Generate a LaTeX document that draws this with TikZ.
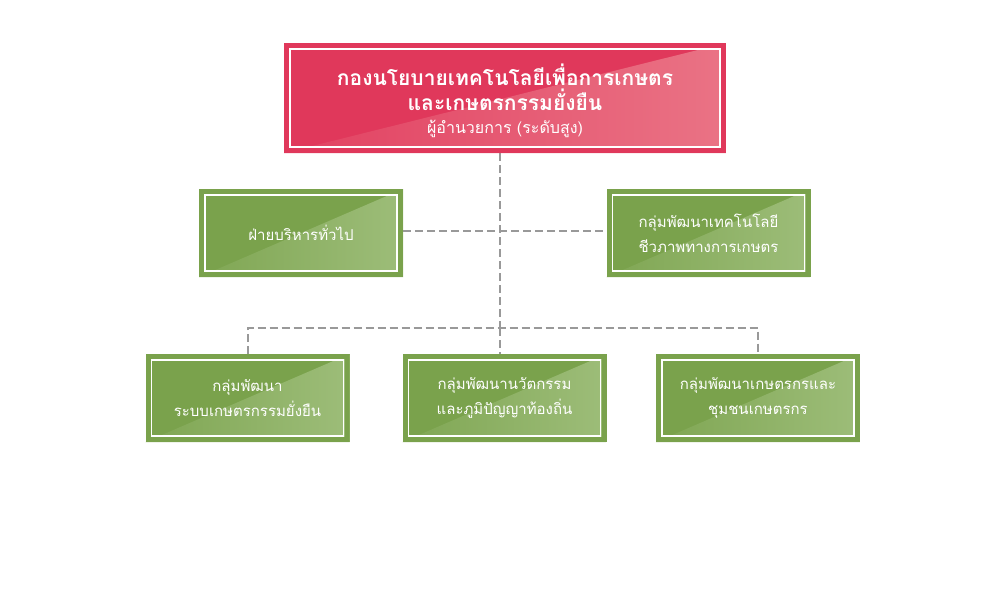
\documentclass[tikz,border=0pt]{standalone}
\usepackage{fontspec}
\newfontfamily\thaifont[Script=Thai]{Loma}

\definecolor{headred}{HTML}{E0385B}
\definecolor{headpink}{HTML}{EA7385}
\definecolor{unitgreen}{HTML}{7AA24C}
\definecolor{unitlight}{HTML}{9DBD79}
\definecolor{linkgray}{HTML}{999999}

% frame of a box: lighter triangle, coloured rim, thin white line
\newcommand\boxdeco[3]{%
  \shade[left color=#2, right color=#3]
    (path picture bounding box.south west) -- (path picture bounding box.north east)
    -- (path picture bounding box.south east) -- cycle;
  \draw[#1, line width=5pt]
    ([xshift=2.5pt,yshift=-2.5pt]path picture bounding box.north west) rectangle
    ([xshift=-2.5pt,yshift=2.5pt]path picture bounding box.south east);
  \draw[white, line width=1.5pt]
    ([xshift=6pt,yshift=-6pt]path picture bounding box.north west) rectangle
    ([xshift=-6pt,yshift=6pt]path picture bounding box.south east);
}

\tikzset{
  boxbase/.style = {inner sep=0pt, align=center, text=white},
  headbox/.style = {boxbase, minimum width=442pt, minimum height=110pt,
                    fill=headred, font=\thaifont\bfseries\fontsize{21}{25}\selectfont,
                    path picture={\boxdeco{headred}{headred!85!headpink}{headpink}}},
  unitbox/.style = {boxbase, minimum width=204pt, minimum height=88pt,
                    fill=unitgreen, font=\thaifont\fontsize{15}{25}\selectfont,
                    path picture={\boxdeco{unitgreen}{unitgreen!85!unitlight}{unitlight}}},
  link/.style    = {draw=linkgray, line width=2pt, dash pattern=on 8pt off 4pt}
}

\begin{document}
\begin{tikzpicture}[x=1pt,y=-1pt]

\fill[white] (0,0) rectangle (1000,600);
\useasboundingbox (0,0) rectangle (1000,600);

\coordinate (hub) at (500,328);

% links first, boxes on top
\draw[link] (500,153) -- (hub);
\draw[link] (403,231) -- (607,231);
\draw[link] (247.5,354) |- (hub) -| (758,354);
\draw[link] (hub) -- (500,354);

\node[headbox] (head) at (505,98)
  {\rule{0pt}{28pt}กองนโยบายเทคโนโลยีเพื่อการเกษตร\\
   และเกษตรกรรมยั่งยืน\\[-2pt]
   {\mdseries\fontsize{16}{23}\selectfont ผู้อำนวยการ (ระดับสูง)}};

\node[unitbox] (admin)   at (301,233)   {ฝ่ายบริหารทั่วไป};
\node[unitbox] (biotech) at (708.5,233) {กลุ่มพัฒนาเทคโนโลยี\\ชีวภาพทางการเกษตร};

\node[unitbox] (sustain) at (247.5,398) {กลุ่มพัฒนา\\ระบบเกษตรกรรมยั่งยืน};
\node[unitbox] (innov)   at (504.5,398) {กลุ่มพัฒนานวัตกรรม\\และภูมิปัญญาท้องถิ่น};
\node[unitbox] (farmer)  at (758,398)   {กลุ่มพัฒนาเกษตรกรและ\\ชุมชนเกษตรกร};

\end{tikzpicture}
\end{document}
